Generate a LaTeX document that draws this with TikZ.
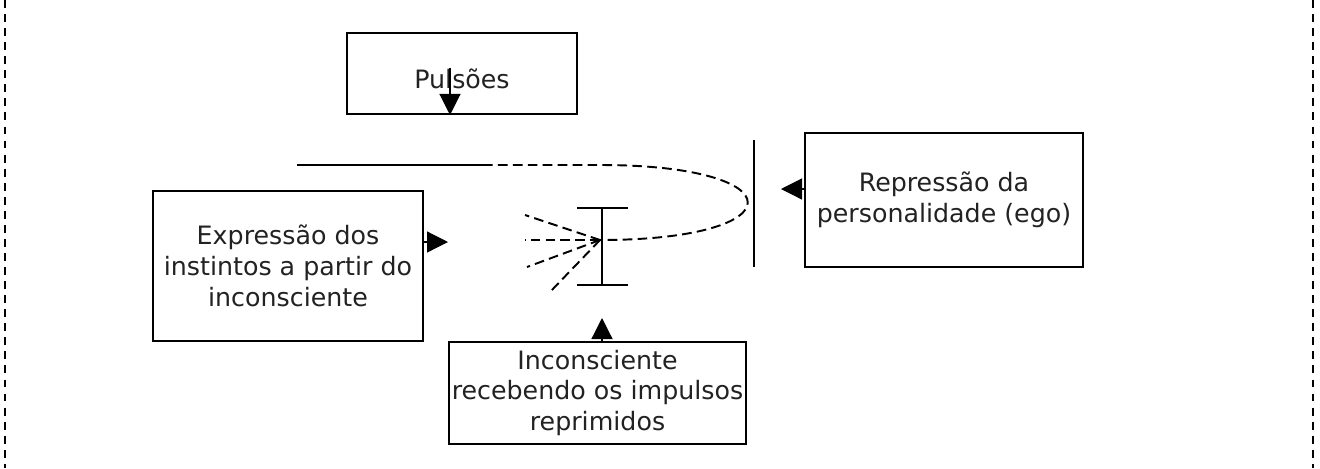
\documentclass[tikz,border=0pt]{standalone}
\usepackage{fontspec}
\setmainfont{DejaVu Sans}
\usetikzlibrary{arrows.meta}

\definecolor{ink}{HTML}{222222}

\tikzset{
  box/.style={draw, line width=1.1pt, align=center, inner sep=1pt,
    text=ink, font=\fontsize{14.4}{17.5}\selectfont},
  tip/.style={-{Triangle[length=0.42cm, width=0.42cm]}, line width=0.7pt},
  dashline/.style={line width=1.1pt, dash pattern=on 5.5pt off 3pt},
  border/.style={line width=0.9pt, dash pattern=on 4.5pt off 3.5pt}
}

\begin{document}
\begin{tikzpicture}[x=0.02cm, y=-0.02cm]
    \useasboundingbox (0,0) rectangle (1320,468);

    % Frame
    \draw[border] (5,0) -- (5,468);
    \draw[border] (1313,0) -- (1313,468);

    % Boxes
    \node[box, minimum width=4.6cm, minimum height=1.62cm, text height=17pt] (pulsoes) at (462,73.5) {Pulsões};
    \node[box, minimum width=5.56cm, minimum height=2.68cm] (repressao) at (944,200) {Repressão da\\personalidade (ego)};
    \node[box, minimum width=5.4cm, minimum height=3.0cm] (expressao) at (288,266) {Expressão dos\\instintos a partir do\\inconsciente};
    \node[box, minimum width=5.94cm, minimum height=2.04cm] (inconsciente) at (597.5,393) {Inconsciente\\recebendo os impulsos\\reprimidos};

    % Points
    \coordinate (pstem) at (450,68);
    \coordinate (ein) at (448,242);
    \coordinate (rin) at (781,189);
    \coordinate (iin) at (602,318);
    \coordinate (hub) at (600,240);
    \coordinate (lstart) at (297,165);
    \coordinate (lmid) at (483,165);
    \coordinate (ltop) at (600,165);

    % Arrows
    \draw[tip] (pstem) -- (pstem |- pulsoes.south);
    \draw[tip] (ein -| expressao.east) -- (ein);
    \draw[tip] (rin -| repressao.west) -- (rin);
    \draw[tip] (iin |- inconsciente.north) -- (iin);

    % Loop line
    \draw[line width=1.1pt] (lstart) -- (lmid);
    \draw[dashline] (lmid) -- (ltop) .. controls (797,165) and (797,240) .. (hub);

    % Wall
    \draw[line width=1.1pt] (754,140) -- (754,267);

    % I-beam
    \draw[line width=1.1pt] (602,208) -- (602,285);
    \draw[line width=1.1pt] (577,208) -- (628,208);
    \draw[line width=1.1pt] (577,285) -- (628,285);

    % Fan
    \foreach \fx/\fy in {525/215, 525/240, 527/267, 550/292}
      \draw[dashline] (hub) -- (\fx,\fy);
\end{tikzpicture}
\end{document}
